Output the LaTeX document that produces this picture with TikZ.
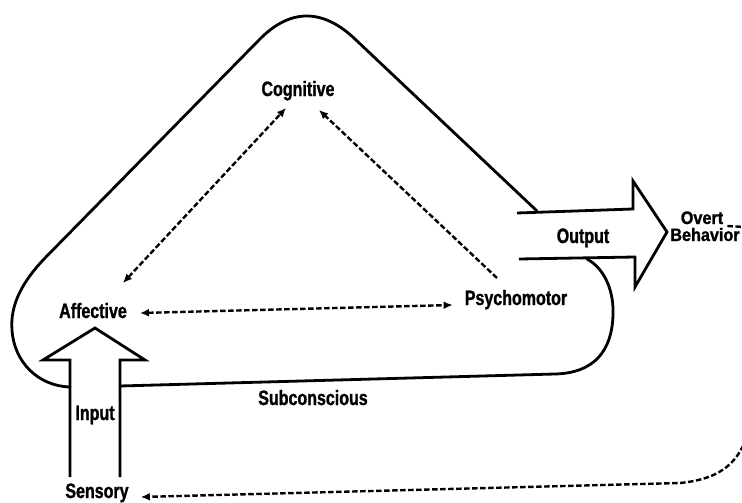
\documentclass[tikz,border=0pt]{standalone}
\usepackage{fontspec}
\newfontfamily\labfont{Liberation Sans}[FakeStretch=0.77,FakeBold=1.2]
\newfontfamily\labfontw{Liberation Sans}[FakeStretch=0.9,FakeBold=1.2]
\usetikzlibrary{arrows.meta,calc}
\begin{document}
\begin{tikzpicture}[x=1pt,y=-1pt,
  lbl/.style={font=\labfont\bfseries\fontsize{20.8}{21}\selectfont, inner sep=0pt, anchor=base},
  lblw/.style={font=\labfontw\bfseries\fontsize{18}{18}\selectfont, inner sep=0pt, anchor=base},
  outline/.style={line width=2.8pt, line join=round, line cap=round},
  blockarrow/.style={line width=2.8pt, line join=miter},
  dsh/.style={line width=2.4pt, dash pattern=on 5.5pt off 2.5pt},
  tipb/.style={{Latex[length=9pt,width=8pt]}-{Latex[length=9pt,width=8pt]}},
  tipe/.style={-{Latex[length=9pt,width=8pt]}}
]
\useasboundingbox (0,0) rectangle (742,503);
\fill[white] (0,0) rectangle (742,503);
\clip (0,0) rectangle (742,503);

% labels
\node[lbl] (cog) at (298,96) {Cognitive};
\node[lbl] (aff) at (93,318) {Affective};
\node[lbl] (psy) at (516,305) {Psychomotor};
\node[lbl] (out) at (583,243) {Output};
\node[lblw] (overt) at (702,224) {Overt};
\node[lblw] (beh) at (705,241) {Behavior};
\node[lbl] (inp) at (95,420) {Input};
\node[lbl] (sub) at (313,405) {Subconscious};
\node[lbl] (sens) at (97,498) {Sensory};

% outer loop
\draw[outline] (537,211) -- (356,40) .. controls (323,8) and (290,8) .. (259,40)
  -- (45,258) .. controls (22,282) and (10,305) .. (12,330)
  .. controls (14,362) and (38,386) .. (70,387);
\draw[outline] (587,259) .. controls (607,270) and (614,295) .. (613,315)
  .. controls (612,350) and (595,373) .. (555,374) -- (120,386);

% block arrows
\draw[blockarrow] (517,213) -- (633,209) -- (633,181) -- (667,232) -- (635,287) -- (635,257) -- (519,259);
\draw[blockarrow] (70,477) -- (70,360) -- (43,360) -- (95,328) -- (145,360) -- (120,360) -- (120,477);

% dashed connectors
\draw[dsh,tipb] ($(aff.base east)+(13,-5)$) -- ($(psy.base west)+(-12,0)$);
\draw[dsh,tipb] ($(aff.base)+(30,-35)$) -- ($(cog.base)+(-12,12)$);
\draw[dsh,tipe] ($(psy.base)+(-19,-27)$) -- ($(cog.base)+(21,14)$);
\draw[dsh,tipe] ($(overt.base east)+(4,2)$) -- (745,227)
  .. controls (762,240) and (760,360) .. (755,400)
  .. controls (748,455) and (730,478) .. (680,483)
  -- ($(sens.base east)+(12,-1)$);
\end{tikzpicture}
\end{document}
